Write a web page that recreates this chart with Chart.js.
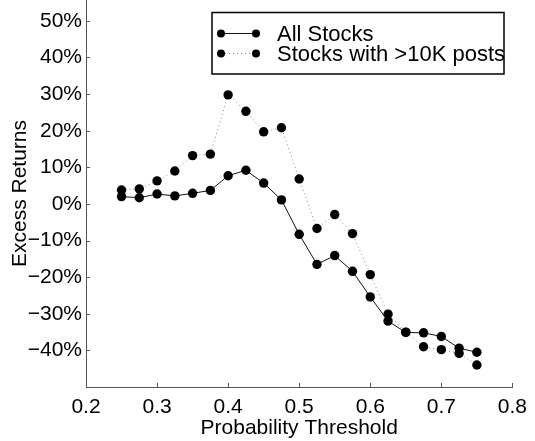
<!DOCTYPE html>
<html>
<head>
<meta charset="utf-8">
<script src="https://cdn.jsdelivr.net/npm/chart.js@4/dist/chart.umd.min.js"></script>
<style>
  html, body { margin: 0; padding: 0; background: #fff; }
  #wrap { width: 535px; height: 441px; }
</style>
</head>
<body>
<div id="wrap"><canvas id="excessChart" width="535" height="441"></canvas></div>
<script>
// probability thresholds (x)
const thresholds = [0.25, 0.275, 0.3, 0.325, 0.35, 0.375, 0.4, 0.425, 0.45, 0.475, 0.5,
                    0.525, 0.55, 0.575, 0.6, 0.625, 0.65, 0.675, 0.7, 0.725, 0.75];
// excess returns in %
const allStocks = [2.0, 1.7, 2.7, 2.2, 2.9, 3.7, 7.7, 9.2, 5.7, 1.1, -8.3,
                   -16.5, -14.1, -18.4, -25.4, -32.0, -35.1, -35.2, -36.2, -39.4, -40.5];
const bigStocks = [3.8, 4.1, 6.3, 9.0, 13.2, 13.6, 29.8, 25.3, 19.7, 20.8, 6.8,
                   -6.7, -2.9, -8.1, -19.3, -30.1, -35.0, -39.0, -39.8, -40.8, -44.0];
const seriesNames = ['All Stocks', 'Stocks with >10K posts'];
const xTicks = [0.2, 0.3, 0.4, 0.5, 0.6, 0.7, 0.8];
const yTicks = [-40, -30, -20, -10, 0, 10, 20, 30, 40, 50];

const FONT = 'Liberation Sans, Arial, sans-serif';

function toPoints(vals) {
  return thresholds.map((t, i) => ({ x: t, y: vals[i] }));
}

// small ticks pointing into the plot, like the matlab figure
const innerTicks = {
  id: 'innerTicks',
  afterDraw(chart) {
    const ctx = chart.ctx;
    const xs = chart.scales.x, ys = chart.scales.y;
    ctx.save();
    ctx.strokeStyle = '#555';
    ctx.lineWidth = 1;
    ctx.beginPath();
    xTicks.forEach(v => {
      const px = Math.round(xs.getPixelForValue(v)) + 0.5;
      ctx.moveTo(px, ys.bottom);
      ctx.lineTo(px, ys.bottom - 4);
    });
    yTicks.forEach(v => {
      const py = Math.round(ys.getPixelForValue(v)) + 0.5;
      ctx.moveTo(xs.left, py);
      ctx.lineTo(xs.left + 4, py);
    });
    ctx.stroke();
    ctx.restore();
  }
};

// boxed legend with marker-line-marker samples
const boxLegend = {
  id: 'boxLegend',
  afterDraw(chart) {
    const ctx = chart.ctx;
    ctx.save();
    ctx.fillStyle = '#fff';
    ctx.fillRect(212, 12.5, 292, 61.5);
    ctx.strokeStyle = '#000';
    ctx.lineWidth = 1.5;
    ctx.strokeRect(212, 12.5, 292, 61.5);
    chart.data.datasets.forEach((ds, i) => {
      const y = 33.5 + i * 20;
      ctx.beginPath();
      ctx.strokeStyle = ds.borderColor;
      ctx.lineWidth = 1;
      ctx.setLineDash(ds.borderDash || []);
      ctx.moveTo(221, y);
      ctx.lineTo(256, y);
      ctx.stroke();
      ctx.setLineDash([]);
      ctx.fillStyle = '#000';
      [221, 256].forEach(cx => {
        ctx.beginPath();
        ctx.arc(cx, y, 4, 0, Math.PI * 2);
        ctx.fill();
      });
      ctx.font = '22px ' + FONT;
      ctx.textBaseline = 'middle';
      ctx.fillText(ds.label, 277, y + 1);
    });
    ctx.restore();
  }
};

const ctx = document.getElementById('excessChart').getContext('2d');
new Chart(ctx, {
  type: 'line',
  data: {
    datasets: [{
      label: seriesNames[0],
      data: toPoints(allStocks),
      borderColor: '#111',
      borderWidth: 1,
      pointRadius: 4.7,
      pointBackgroundColor: '#000',
      pointBorderWidth: 0,
      tension: 0,
      clip: false
    }, {
      label: seriesNames[1],
      data: toPoints(bigStocks),
      borderColor: '#888',
      borderWidth: 1,
      borderDash: [1, 3],
      pointRadius: 4.7,
      pointBackgroundColor: '#000',
      pointBorderWidth: 0,
      tension: 0,
      clip: false
    }]
  },
  options: {
    responsive: false,
    animation: false,
    layout: { autoPadding: false, padding: { left: 0, right: 20.3, top: 0, bottom: 0 } },
    plugins: { legend: { display: false }, tooltip: { enabled: false } },
    scales: {
      x: {
        type: 'linear',
        min: 0.2,
        max: 0.8,
        afterBuildTicks: s => { s.ticks = xTicks.map(v => ({ value: v })); },
        afterFit: s => { s.height = 54; },
        grid: { display: false, drawTicks: false },
        border: { display: true, color: '#555', width: 1 },
        ticks: {
          color: '#000',
          font: { family: FONT, size: 21 },
          padding: 8,
          maxRotation: 0,
          callback: v => v.toFixed(1)
        },
        title: {
          display: true,
          text: 'Probability Threshold',
          color: '#000',
          font: { family: FONT, size: 21 },
          padding: { top: -6, bottom: 0 }
        }
      },
      y: {
        min: -50,
        max: 55.7,
        afterBuildTicks: s => { s.ticks = yTicks.map(v => ({ value: v })); },
        afterFit: s => { s.width = 86; s.paddingTop = 0; s.paddingBottom = 0; },
        grid: { display: false, drawTicks: false },
        border: { display: true, color: '#555', width: 1 },
        ticks: {
          color: '#000',
          font: { family: FONT, size: 21 },
          padding: 4,
          callback: v => (v < 0 ? '\u2212' + Math.abs(v) : v) + '%'
        },
        title: {
          display: true,
          text: 'Excess Returns',
          color: '#000',
          font: { family: FONT, size: 21 },
          padding: { top: 8, bottom: 0 }
        }
      }
    }
  },
  plugins: [innerTicks, boxLegend]
});
</script>
</body>
</html>
